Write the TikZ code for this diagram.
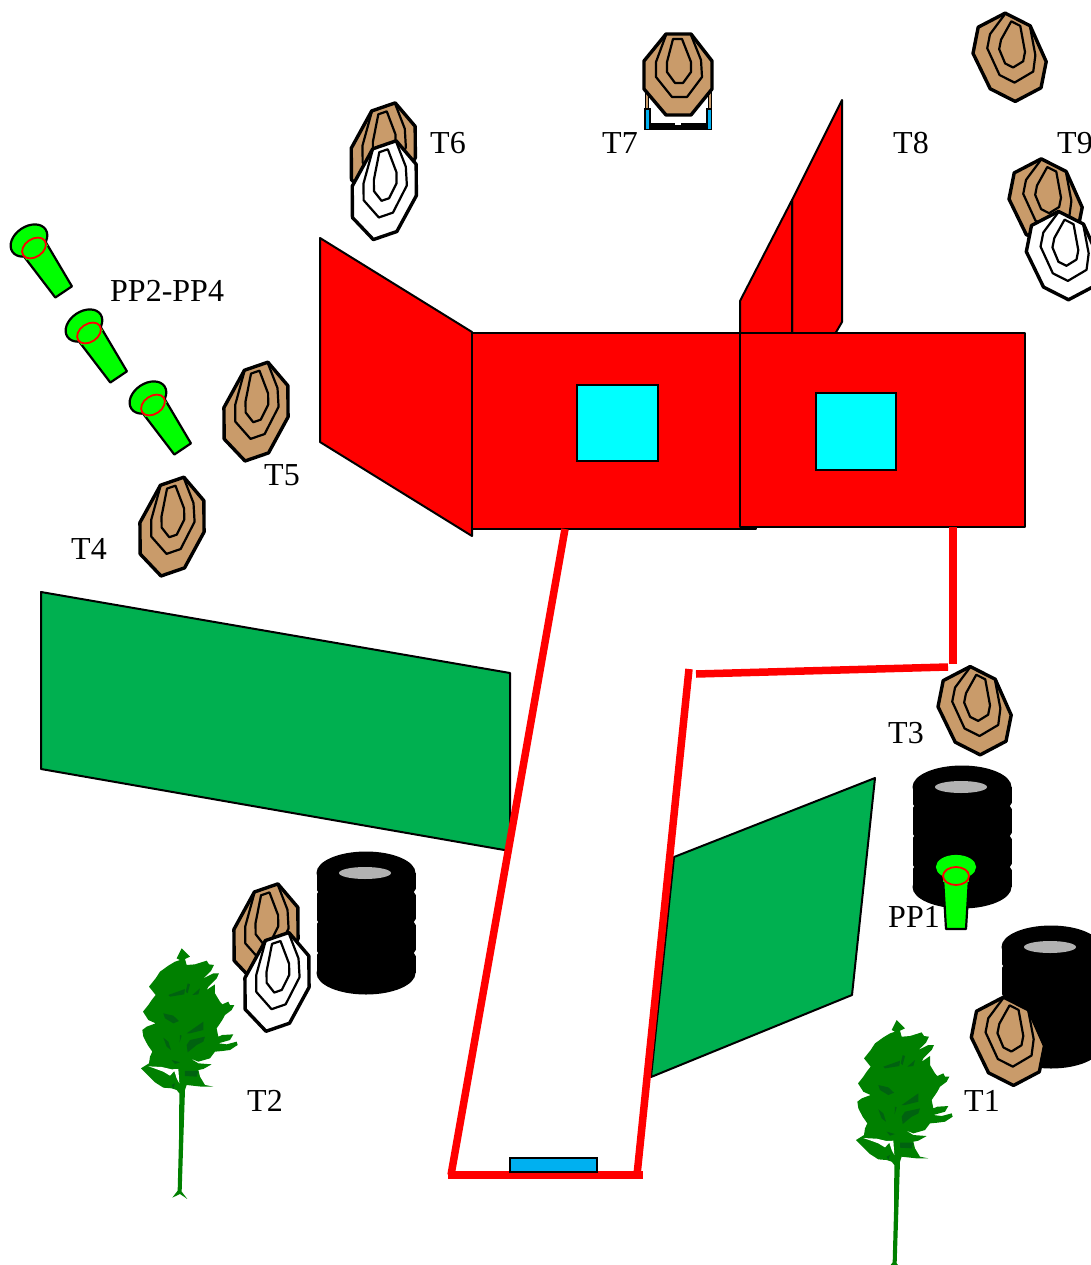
\documentclass[tikz,border=0pt]{standalone}
\usepackage{fontspec}
\setmainfont{Liberation Serif}
\definecolor{tan1}{RGB}{201,155,106}
\definecolor{panelgreen}{RGB}{0,176,80}
\definecolor{treegreen}{RGB}{0,128,0}
\definecolor{treedark}{RGB}{0,98,16}
\definecolor{padblue}{RGB}{0,176,240}
\definecolor{wincyan}{RGB}{0,255,255}
\definecolor{gungreen}{RGB}{0,255,0}
\tikzset{
  lbl/.style={anchor=base west,inner sep=0pt,font=\fontsize{32}{32}\selectfont},
  wall/.style={draw=black,line width=2pt,line join=round,fill=red},
  win/.style={draw=black,line width=2pt,fill=wincyan},
  screen/.style={draw=black,line width=2pt,fill=panelgreen,line join=round},
  tape/.style={draw=red,line width=7.5pt},
  outerring/.style={draw=black,line width=3.4pt,line join=round},
  innerring/.style={draw=black,line width=2.2pt,line join=round},
  gunfill/.style={fill=gungreen,draw=black,line width=2.2pt,line join=round},
  redring/.style={draw=red,line width=1.8pt},
  plaintarget/.style={x=1pt,y=-1pt},
  righttarget/.style={x={(.94pt,.323pt)},y={(.008pt,-1.12pt)}},
  lefttarget/.style={x={(1.0pt,-.507pt)},y={(-.185pt,-.934pt)}},
}
\newcommand{\shoot}[4]{%
  \begin{scope}[shift={(#2,#3)},#1]
    \path[outerring,fill=#4] (-12,-41)--(13,-41)--(34,-14)--(34,14)--(13,40)--(-12,40)--(-34,14)--(-34,-14)--cycle;
    \path[innerring] (-12,-40)--(-22,-13)--(-22,2)--(-6,22)--(9,22)--(24,2)--(23,-15)--(13,-40);
    \path[innerring] (-5,-36)--(4,-36)--(13,-13)--(13,-3)--(5,8)--(-3,8)--(-11,-3)--(-11,-13)--cycle;
  \end{scope}}
\newcommand{\tyres}[2]{%
  \begin{scope}[shift={(#1,#2)}]
    \fill[black] (0,-50) ellipse[x radius=49.5,y radius=21.5];
    \fill[black] (0,50) ellipse[x radius=49.5,y radius=21.5];
    \fill[black] (-49.5,-50) rectangle (49.5,50);
    \fill[white] (-50.5,-35)--(-48,-31)--(-50.5,-27)--cycle (50.5,-35)--(48,-31)--(50.5,-27)--cycle
                 (-50.5,-5)--(-48,-1)--(-50.5,3)--cycle (50.5,-5)--(48,-1)--(50.5,3)--cycle
                 (-50.5,26)--(-48,30)--(-50.5,34)--cycle (50.5,26)--(48,30)--(50.5,34)--cycle;
    \fill[black!30] (-1,-50) ellipse[x radius=26,y radius=6];
  \end{scope}}
\newcommand{\gun}[6]{% x y rot headstroke rx ry
  \begin{scope}[shift={(#1,#2)},rotate=#3]
    \path[gunfill,draw=#4] (0,-9) ellipse[x radius=#5,y radius=#6];
    \path[gunfill] (-13,2)--(-10,53)--(10,53)--(13,2);
    \fill[gungreen] (-13,-3) rectangle (13,6);
    \path[redring] (0,0) ellipse[x radius=13,y radius=9];
  \end{scope}}
\newcommand{\mytree}[2]{%
  \begin{scope}[shift={(#1,#2)},x=0.3333pt,y=-0.3333pt]
    \fill[treegreen] (140,10)--(165,35)--(150,42)--(155,60)--(180,58)--(215,47)--(222,58)--(237,60)--(228,78)--(205,100)--(235,85)--(252,85)--(245,100)--(220,125)--(215,135)--(240,118)--(240,145)--(255,170)--(262,178)--(280,170)--(285,180)--(298,180)--(290,195)--(270,210)--(262,225)--(245,250)--(250,275)--(262,270)--(295,268)--(285,285)--(250,295)--(275,298)--(305,290)--(308,300)--(285,315)--(262,318)--(240,320)--(225,340)--(190,350)--(165,340)--(190,355)--(230,358)--(205,372)--(190,375)--(195,395)--(210,420)--(235,425)--(200,425)--(155,420)--(150,435)--(145,585)--(140,740)--(157,762)--(135,747)--(112,758)--(128,737)--(132,585)--(133,445)--(125,435)--(110,430)--(85,428)--(60,412)--(40,392)--(18,370)--(42,355)--(45,335)--(52,320)--(38,300)--(25,275)--(22,255)--(35,245)--(62,235)--(40,225)--(24,200)--(40,180)--(50,165)--(62,150)--(42,125)--(62,100)--(75,80)--(100,62)--(120,50)--(135,45)--(125,40)--cycle;
    \fill[white] (40,364)--(80,366)--(110,373)--(130,372)--(133,415)--(125,400)--(118,378)--(105,392)--(85,380)--(55,369)--cycle;
    \fill[treedark] (100,150)--(150,132)--(148,148)--(105,155)--cycle
      (158,115)--(165,118)--(158,145)--(152,140)--cycle
      (172,150)--(195,130)--(190,148)--cycle
      (85,205)--(115,212)--(132,228)--(115,235)--(90,220)--cycle
      (155,265)--(205,230)--(205,255)--(165,265)--cycle
      (135,270)--(140,272)--(134,292)--cycle
      (85,278)--(100,290)--(108,315)--(95,305)--cycle
      (165,285)--(210,275)--(205,290)--(185,300)--(158,322)--(155,300)--cycle
      (110,345)--(135,352)--(120,357)--cycle
      (150,378)--(190,378)--(185,395)--(150,393)--cycle
      (110,420)--(120,415)--(115,430)--cycle;
  \end{scope}}
\begin{document}
\begin{tikzpicture}[x=1pt,y=-1pt]
\useasboundingbox (0,0) rectangle (1091,1265);
% back walls
\path[wall] (842,100)--(842,322)--(835,334)--(792,334)--(792,200)--cycle;
\path[wall] (740,301)--(792,200)--(792,334)--(740,334)--cycle;
\path[wall] (320,238)--(472,332)--(472,536)--(320,442)--cycle;
\path[wall] (472,333) rectangle (756,529);
\path[wall] (740,333) rectangle (1025,527);
\path[win] (577,385) rectangle (658,461);
\path[win] (816,393) rectangle (896,470);
% green screens
\path[screen] (41,592)--(510,673)--(510,851)--(41,769)--cycle;
\path[screen] (674,857)--(875,778)--(852,995)--(651,1077)--cycle;
% fault lines
\coordinate (a1) at (565,529);
\coordinate (a2) at (451,1175);
\coordinate (b1) at (448,1175);
\coordinate (a3) at (643,1175);
\coordinate (a4) at (637,1175);
\coordinate (a5) at (689,669);
\coordinate (a6) at (696,674);
\coordinate (a7) at (948,667);
\coordinate (a8) at (953,527);
\coordinate (a9) at (953,664);
\draw[tape] (a1)--(a2);
\draw[tape] (b1)--(a3);
\draw[tape] (a4)--(a5);
\draw[tape] (a6)--(a7);
\draw[tape] (a8)--(a9);
\path[draw=black,line width=1.5pt,fill=padblue] (510,1158) rectangle (597,1172);
% tyres
\tyres{366}{923}
\tyres{962}{837}
\tyres{1051}{997}
% T7 stand
\path[draw=black,line width=1pt,fill=tan1] (645,89) rectangle (648,110);
\path[draw=black,line width=1pt,fill=tan1] (708,89) rectangle (711,110);
\fill[black] (648,123) rectangle (708,130);
\fill[white] (675,123) rectangle (681,125);
\path[draw=black,line width=1.3pt,fill=padblue] (645,109) rectangle (650,129.5);
\path[draw=black,line width=1.3pt,fill=padblue] (707,109) rectangle (711.5,129.5);
% targets
\shoot{plaintarget}{678}{75}{tan1}
\shoot{lefttarget}{1009.6}{57.5}{tan1}
\shoot{lefttarget}{974.6}{710.9}{tan1}
\shoot{lefttarget}{1007.9}{1041.5}{tan1}
\shoot{righttarget}{256}{412.3}{tan1}
\shoot{righttarget}{172}{527.3}{tan1}
\shoot{righttarget}{383.3}{153}{tan1}
\shoot{righttarget}{384.3}{190.9}{white}
\shoot{righttarget}{266}{934}{tan1}
\shoot{righttarget}{277}{982.6}{white}
\shoot{lefttarget}{1045.6}{203.2}{tan1}
\shoot{lefttarget}{1062.9}{255.8}{white}
% shooting positions
\gun{34}{248}{34}{black}{20}{14}
\gun{89}{333}{34}{black}{20}{14}
\gun{153}{405}{34}{black}{20}{14}
\gun{956}{876}{0}{gungreen}{19}{11}
% trees
\mytree{135}{945}
\mytree{850}{1016.7}
% labels
\node[lbl] (t6) at (430,154) {T6};
\node[lbl] (t7) at (602,154) {T7};
\node[lbl] (t8) at (893,154) {T8};
\node[lbl] (t9) at (1057,154) {T9};
\node[lbl] (pp24) at (110,301) {PP2-PP4};
\node[lbl] (t5) at (264,485) {T5};
\node[lbl] (t4) at (71,559) {T4};
\node[lbl] (t3) at (888,743) {T3};
\node[lbl] (pp1) at (888,927) {PP1};
\node[lbl] (t2) at (247,1111) {T2};
\node[lbl] (t1) at (964,1111) {T1};
\end{tikzpicture}
\end{document}
